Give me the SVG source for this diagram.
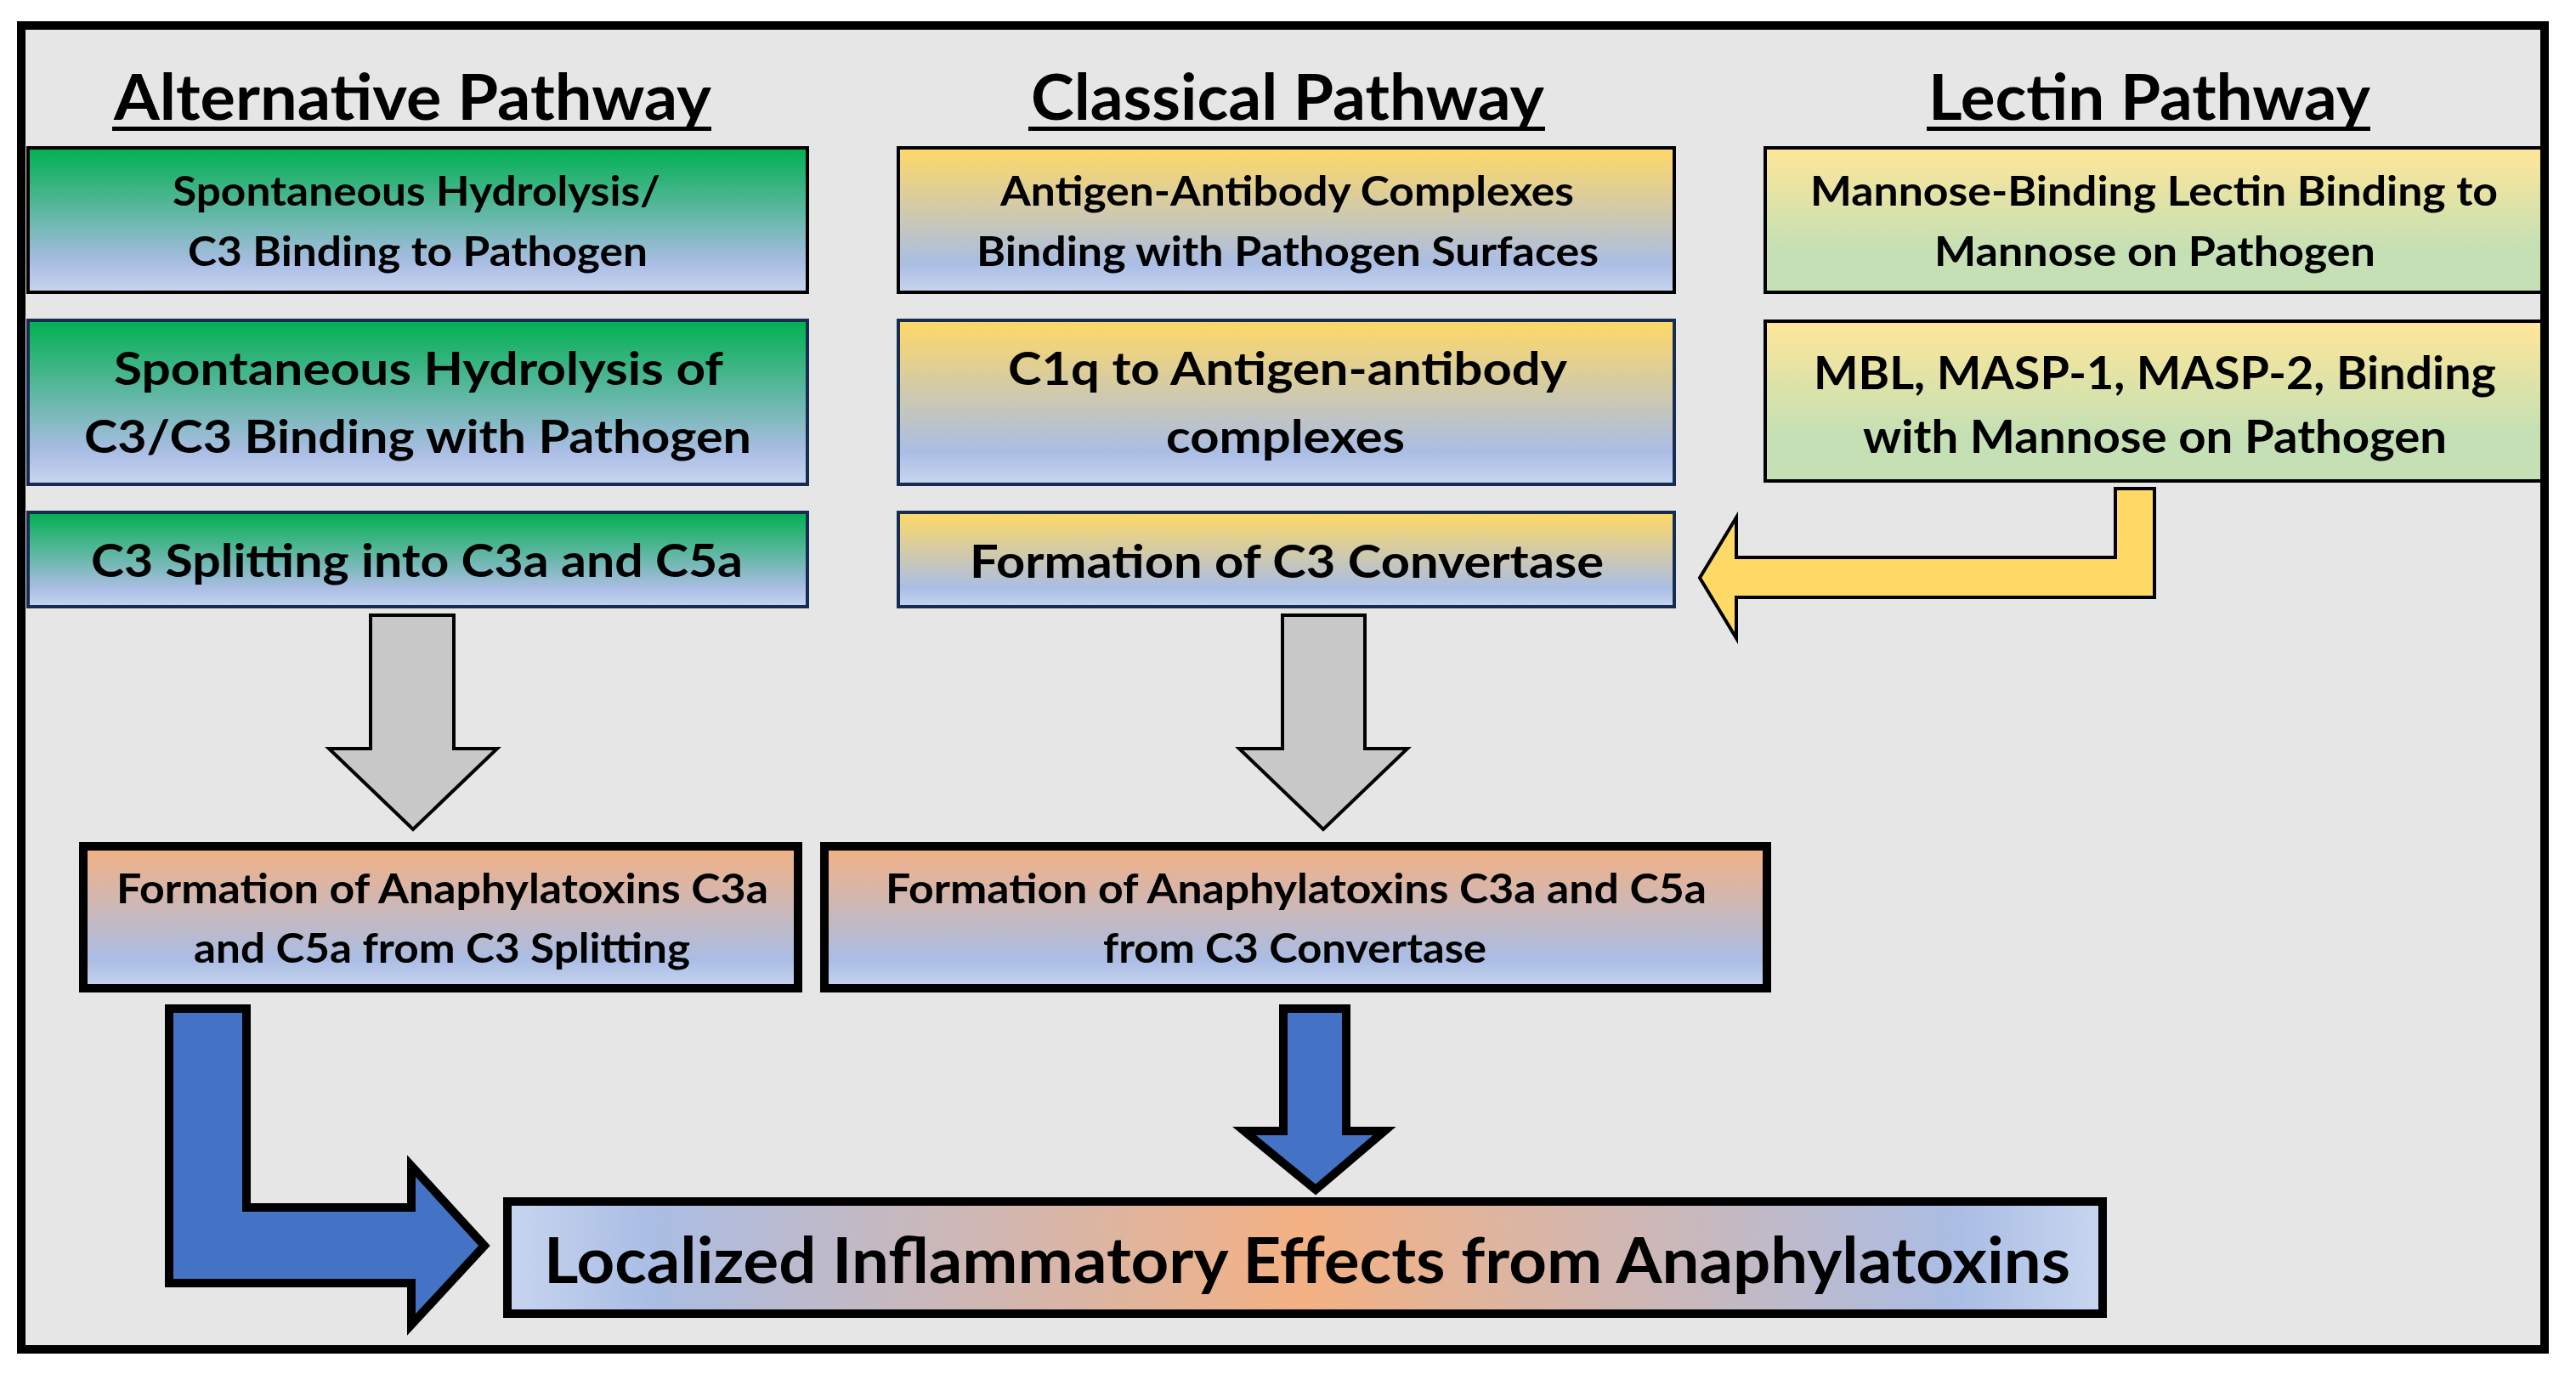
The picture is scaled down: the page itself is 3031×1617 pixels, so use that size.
<svg xmlns="http://www.w3.org/2000/svg" width="3031" height="1617" viewBox="0 0 3031 1617">
<defs>
<linearGradient id="gGreen" x1="0" y1="0" x2="0" y2="1"><stop offset="0" stop-color="#00b050"/><stop offset="0.8" stop-color="#aabde4"/><stop offset="1" stop-color="#c7d5ef"/></linearGradient>
<linearGradient id="gYellow" x1="0" y1="0" x2="0" y2="1"><stop offset="0" stop-color="#ffd966"/><stop offset="0.8" stop-color="#aabde4"/><stop offset="1" stop-color="#c7d5ef"/></linearGradient>
<linearGradient id="gLectin" x1="0" y1="0" x2="0" y2="1"><stop offset="0" stop-color="#ffe699"/><stop offset="0.7" stop-color="#c5e0b4"/><stop offset="1" stop-color="#c5e0b4"/></linearGradient>
<linearGradient id="gOrange" x1="0" y1="0" x2="0" y2="1"><stop offset="0" stop-color="#f4b183"/><stop offset="0.8" stop-color="#aabde4"/><stop offset="1" stop-color="#c7d5ef"/></linearGradient>
<linearGradient id="gFinal" x1="0" y1="0" x2="1" y2="0"><stop offset="0" stop-color="#c7d5ef"/><stop offset="0.09" stop-color="#aabde4"/><stop offset="0.5" stop-color="#f4b183"/><stop offset="0.91" stop-color="#aabde4"/><stop offset="1" stop-color="#c7d5ef"/></linearGradient>
</defs>
<style>
text{font-family:Lato,"Open Sans","Liberation Sans",sans-serif;font-weight:bold;fill:#000;text-anchor:middle}
.title{font-size:74px}
.s{font-size:47px}
.m{font-size:54px}
.big{font-size:74px}
.ul{stroke:#000;stroke-width:5}
.bk{stroke:#000;stroke-width:4}
.nv{stroke:#172c51;stroke-width:4}
.thick{stroke:#000;stroke-width:10}
.grey{fill:#c8c8c8;stroke:#000;stroke-width:4;stroke-linejoin:miter}
.blue{fill:#4472c4;stroke:#000;stroke-width:10;stroke-linejoin:miter}
.yel{fill:#ffd966;stroke:#000;stroke-width:4;stroke-linejoin:miter}
</style>
<rect width="3031" height="1617" fill="#ffffff"/>
<rect id="panel" x="25" y="30" width="2969" height="1558" fill="#e6e6e6"/>

<g id="title-alternative">
<text class="title" x="485.5" y="141" textLength="703" lengthAdjust="spacingAndGlyphs">Alternative Pathway</text>
<line class="ul" x1="132" y1="151.5" x2="837" y2="151.5"/>
</g>
<g id="title-classical">
<text class="title" x="1515" y="141" textLength="604" lengthAdjust="spacingAndGlyphs">Classical Pathway</text>
<line class="ul" x1="1210" y1="151.5" x2="1818" y2="151.5"/>
</g>
<g id="title-lectin">
<text class="title" x="2529" y="141" textLength="520" lengthAdjust="spacingAndGlyphs">Lectin Pathway</text>
<line class="ul" x1="2267" y1="151.5" x2="2789" y2="151.5"/>
</g>

<g id="alt1">
<rect x="33" y="174" width="917" height="170" fill="url(#gGreen)" class="bk"/>
<text class="s" x="490" y="242" textLength="574" lengthAdjust="spacingAndGlyphs">Spontaneous Hydrolysis/</text>
<text class="s" x="491.5" y="313" textLength="541" lengthAdjust="spacingAndGlyphs">C3 Binding to Pathogen</text>
</g>
<g id="alt2">
<rect x="33" y="377" width="917" height="193" fill="url(#gGreen)" class="nv"/>
<text class="m" x="492.5" y="453" textLength="717" lengthAdjust="spacingAndGlyphs">Spontaneous Hydrolysis of</text>
<text class="m" x="491.5" y="533" textLength="785" lengthAdjust="spacingAndGlyphs">C3/C3 Binding with Pathogen</text>
</g>
<g id="alt3">
<rect x="33" y="603" width="917" height="111" fill="url(#gGreen)" class="nv"/>
<text class="m" x="490.5" y="679" textLength="767" lengthAdjust="spacingAndGlyphs">C3 Splitting into C3a and C5a</text>
</g>

<g id="cls1">
<rect x="1057" y="174" width="913" height="170" fill="url(#gYellow)" class="bk"/>
<text class="s" x="1514.5" y="242" textLength="675" lengthAdjust="spacingAndGlyphs">Antigen-Antibody Complexes</text>
<text class="s" x="1515" y="313" textLength="732" lengthAdjust="spacingAndGlyphs">Binding with Pathogen Surfaces</text>
</g>
<g id="cls2">
<rect x="1057" y="377" width="913" height="193" fill="url(#gYellow)" class="nv"/>
<text class="m" x="1515" y="453" textLength="658" lengthAdjust="spacingAndGlyphs">C1q to Antigen-antibody</text>
<text class="m" x="1512.5" y="533" textLength="281" lengthAdjust="spacingAndGlyphs">complexes</text>
</g>
<g id="cls3">
<rect x="1057" y="603" width="913" height="111" fill="url(#gYellow)" class="nv"/>
<text class="m" x="1514" y="680" textLength="746" lengthAdjust="spacingAndGlyphs">Formation of C3 Convertase</text>
</g>

<g id="lec1">
<rect x="2077" y="174" width="917" height="170" fill="url(#gLectin)" class="bk"/>
<text class="s" x="2534.5" y="242" textLength="809" lengthAdjust="spacingAndGlyphs">Mannose-Binding Lectin Binding to</text>
<text class="s" x="2535.5" y="313" textLength="519" lengthAdjust="spacingAndGlyphs">Mannose on Pathogen</text>
</g>
<g id="lec2">
<rect x="2077" y="378" width="917" height="188" fill="url(#gLectin)" class="bk"/>
<text class="m" x="2535.5" y="458" textLength="803" lengthAdjust="spacingAndGlyphs">MBL, MASP-1, MASP-2, Binding</text>
<text class="m" x="2535.5" y="533" textLength="687" lengthAdjust="spacingAndGlyphs">with Mannose on Pathogen</text>
</g>

<g id="form1">
<rect x="98" y="996" width="841" height="167" fill="url(#gOrange)" class="thick"/>
<text class="s" x="520.5" y="1063" textLength="767" lengthAdjust="spacingAndGlyphs">Formation of Anaphylatoxins C3a</text>
<text class="s" x="520" y="1133" textLength="584" lengthAdjust="spacingAndGlyphs">and C5a from C3 Splitting</text>
</g>
<g id="form2">
<rect x="970" y="996" width="1109" height="167" fill="url(#gOrange)" class="thick"/>
<text class="s" x="1525" y="1063" textLength="966" lengthAdjust="spacingAndGlyphs">Formation of Anaphylatoxins C3a and C5a</text>
<text class="s" x="1523.5" y="1133" textLength="451" lengthAdjust="spacingAndGlyphs">from C3 Convertase</text>
</g>

<g id="final">
<rect x="597" y="1414" width="1877" height="132" fill="url(#gFinal)" class="thick"/>
<text class="big" x="1538" y="1510" textLength="1796" lengthAdjust="spacingAndGlyphs">Localized Inflammatory Effects from Anaphylatoxins</text>
</g>

<g id="connectors">
<polygon id="arrow-alt" class="grey" points="436,724 534,724 534,881 585,881 486,976 387,881 436,881"/>
<polygon id="arrow-cls" class="grey" points="1509,724 1606,724 1606,881 1656,881 1557,976 1458,881 1509,881"/>
<polygon id="arrow-lectin" class="yel" points="2489,575 2535,575 2535,703 2043,703 2043,751 2000,680 2043,609 2043,656 2489,656"/>
<polygon id="arrow-form1" class="blue" points="199,1187 290,1187 290,1421 484,1421 484,1372 570,1466 484,1559 484,1510 199,1510"/>
<polygon id="arrow-form2" class="blue" points="1510,1187 1584,1187 1584,1331 1629,1331 1548,1400 1464,1331 1510,1331"/>
</g>

<rect id="frame" x="25" y="30" width="2969" height="1558" fill="none" stroke="#000" stroke-width="10"/>
</svg>
